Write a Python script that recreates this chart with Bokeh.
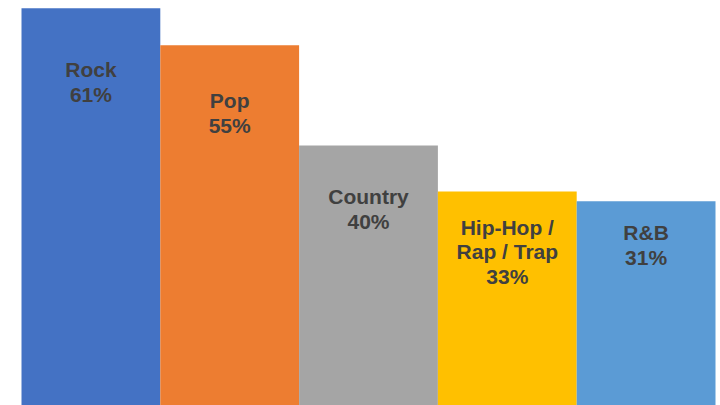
from bokeh.plotting import figure
from bokeh.models import ColumnDataSource, Range1d
from bokeh.core.properties import value
from bokeh.embed import file_html
from bokeh.resources import INLINE

genres = ["Rock", "Pop", "Country", "Hip-Hop /\nRap / Trap", "R&B"]
shares = [61.1, 55.4, 40.0, 32.9, 31.4]
colors = ["#4472C4", "#ED7D31", "#A5A5A5", "#FFC000", "#5B9BD5"]
label_drop = [50, 44, 40, 24, 20]  # px below bar top (styling)

xs = list(range(len(genres)))
labels = [f"{g}\n{round(v)}%" for g, v in zip(genres, shares)]

src = ColumnDataSource(dict(x=xs, top=shares, color=colors, label=labels, dy=label_drop))

unit = 138.8
p = figure(width=720, height=405, output_backend="svg", toolbar_location=None,
           x_range=Range1d(-0.5 - 21 / unit, 4.5 + 5 / unit),
           y_range=Range1d(0, 62.3), min_border=0)
p.axis.visible = False
p.grid.visible = False
p.outline_line_color = None
p.background_fill_color = "white"
p.border_fill_color = "white"

p.vbar(x="x", top="top", bottom=0, width=1.0, color="color", line_color=None, source=src)
p.text(x="x", y="top", text="label", y_offset="dy", source=src,
       text_align="center", text_baseline="top",
       text_font=value("Liberation Sans"), text_font_style="bold",
       text_font_size="21px", text_color="#404040", text_line_height=1.08)

open("out.html", "w").write(file_html(p, INLINE))
